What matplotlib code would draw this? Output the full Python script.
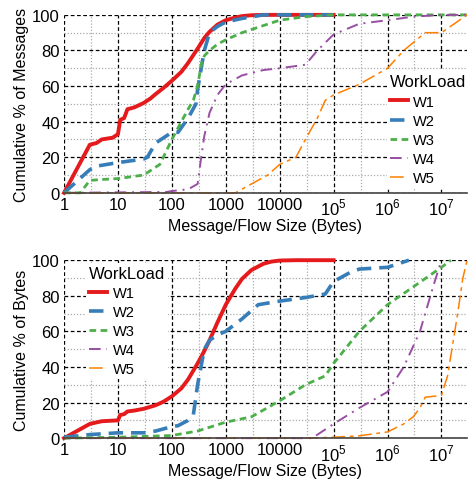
import matplotlib
matplotlib.use("Agg")
import matplotlib.pyplot as plt
from matplotlib.ticker import FixedLocator, FixedFormatter, NullFormatter

plt.rcParams['font.family'] = ['Liberation Sans', 'DejaVu Sans']
plt.rcParams['mathtext.fontset'] = 'custom'
plt.rcParams['mathtext.rm'] = 'Liberation Sans'

names = ["W1", "W2", "W3", "W4", "W5"]
colors = ["#e41a1c", "#377eb8", "#4daf4a", "#984ea3", "#ff7f00"]

# Top: cumulative % of messages
msg_x = {
    "W1": [1, 3, 4, 5, 8, 10, 11, 13, 15, 20, 30, 40, 50, 70, 100, 150, 200, 300, 400, 500, 700,
           1000, 1500, 2000, 3000, 5000, 1e5],
    "W2": [1, 3, 4, 10, 30, 35, 50, 100, 130, 200, 280, 300, 350, 400, 500, 700, 1000, 2000, 5000, 1e5],
    "W3": [1, 2, 3, 5, 10, 30, 60, 100, 150, 200, 250, 300, 350, 400, 500, 700, 1000, 2000, 5000,
           1e4, 3e4, 1e5, 3e7],
    "W4": [1, 80, 100, 200, 300, 350, 400, 500, 700, 1000, 2000, 5000, 1e4, 3e4, 5e4, 1e5, 3e5,
           1e6, 3e6, 1e7, 3e7],
    "W5": [1, 1500, 3000, 6000, 1e4, 2e4, 3e4, 5e4, 7e4, 1e5, 3e5, 1e6, 2e6, 5e6, 1e7, 3e7],
}
msg_y = {
    "W1": [0, 27, 28, 30, 31, 33, 41, 42, 47, 48, 50.5, 53, 55.5, 59, 63, 68, 73, 81, 87, 90.5, 94.5,
           97, 98.5, 99.3, 99.8, 100, 100],
    "W2": [0, 13, 15, 17, 19, 20, 28, 34, 34, 42, 50, 58, 70, 80, 90, 93.5, 96, 98, 100, 100],
    "W3": [0, 0, 7, 7.5, 8, 10, 16, 30, 40, 47, 52, 60, 72, 77, 80, 83.5, 86, 90, 94, 97, 99, 100, 100],
    "W4": [0, 0.5, 1, 2, 5, 20, 32, 45, 55, 61, 66, 69, 70, 72, 80, 89, 95, 97, 99, 100, 100],
    "W5": [0, 0, 5, 10, 16, 20, 30, 42, 52, 55, 61, 70, 80, 90, 90, 100],
}

# Bottom: cumulative % of bytes
byte_x = {
    "W1": [1, 3, 5, 10, 11, 13, 15, 20, 30, 50, 70, 100, 150, 200, 300, 400, 500, 700, 1000, 1500,
           2000, 3000, 5000, 7000, 1e4, 2e4, 1e5],
    "W2": [1, 3, 10, 30, 50, 100, 130, 200, 250, 300, 400, 500, 700, 1000, 2000, 4000, 1e4, 3e4,
           7e4, 1e5, 2e5, 3e5, 1e6, 2.5e6],
    "W3": [1, 10, 100, 300, 1000, 3000, 1e4, 3e4, 7e4, 1e5, 3e5, 1e6, 3e6, 1e7, 1.5e7],
    "W4": [1, 4e4, 1e5, 3e5, 1e6, 2e6, 4e6, 5e6, 7e6, 1e7],
    "W5": [1, 3e4, 1e5, 3e5, 1e6, 2e6, 3e6, 4e6, 5e6, 1e7, 1.3e7, 2e7, 2.5e7, 3e7],
}
byte_y = {
    "W1": [0, 8, 9.5, 10, 13, 13.5, 15, 15.5, 16.5, 18.5, 20.5, 23.5, 28, 33, 42, 49, 55, 65, 75, 84,
           89.5, 94.5, 98, 99.2, 99.8, 100, 100],
    "W2": [0.5, 2, 3, 3, 4, 6.5, 7, 10, 13, 30, 50, 55, 58, 60, 67, 75, 77, 79, 81, 88, 93, 95, 96, 100],
    "W3": [0, 0.5, 1.5, 4, 9, 12, 21, 30, 35, 42, 60, 75, 85, 96, 100],
    "W4": [0, 0, 8, 17, 26, 40, 60, 70, 85, 100],
    "W5": [0, 0, 0.5, 1.3, 3.5, 8, 12, 17, 23, 24, 35, 70, 90, 100],
}

styles = {
    "W1": dict(lw=2.8, ls="-"),
    "W2": dict(lw=2.6, ls=(0, (4, 2.2))),
    "W3": dict(lw=2.0, ls=(0, (2.4, 1.6))),
    "W4": dict(lw=1.4, ls=(0, (6, 3, 1, 3))),
    "W5": dict(lw=1.1, ls=(0, (9, 3, 2.5, 3))),
}

xtick_vals = [1, 10, 100, 1000, 1e4, 1e5, 1e6, 1e7]
xtick_labels = ["1", "10", "100", "1000", "10000", r"$10^5$", r"$10^6$", r"$10^7$"]
minor_x = [10 ** (k + 0.5) for k in range(0, 8)]

fig = plt.figure(figsize=(4.71, 4.81), dpi=100)
ax1 = fig.add_axes([0.136, 0.597, 0.855, 0.370])
ax2 = fig.add_axes([0.136, 0.087, 0.855, 0.370])


def style_axes(ax, ylabel):
    ax.set_xscale("log")
    ax.set_xlim(1, 10 ** 7.47)
    ax.set_ylim(0, 100)
    ax.xaxis.set_major_locator(FixedLocator(xtick_vals))
    ax.xaxis.set_major_formatter(FixedFormatter(xtick_labels))
    ax.xaxis.set_minor_locator(FixedLocator(minor_x))
    ax.xaxis.set_minor_formatter(NullFormatter())
    ax.yaxis.set_major_locator(FixedLocator([0, 20, 40, 60, 80, 100]))
    ax.yaxis.set_minor_locator(FixedLocator([10, 30, 50, 70, 90]))
    ax.grid(True, which="major", color="black", ls=(0, (3, 2)), lw=0.9)
    ax.grid(True, which="minor", color="#aaaaaa", ls=(0, (1, 1.5)), lw=0.9)
    ax.tick_params(which="both", length=0, labelsize=12, pad=3)
    for s in ["top", "right", "left"]:
        ax.spines[s].set_visible(False)
    ax.spines["bottom"].set_color("#444444")
    ax.spines["bottom"].set_linewidth(1.2)
    ax.set_xlabel("Message/Flow Size (Bytes)", fontsize=11.5, labelpad=0)
    ax.set_ylabel(ylabel, fontsize=11.5, labelpad=2)
    ax.set_axisbelow(True)


for ax, xs, ys, yl in [(ax1, msg_x, msg_y, "Cumulative % of Messages"),
                        (ax2, byte_x, byte_y, "Cumulative % of Bytes")]:
    style_axes(ax, yl)
    for n, c in zip(names, colors):
        ax.plot(xs[n], ys[n], color=c, label=n, clip_on=False, **styles[n])

leg_kw = dict(title="WorkLoad", fontsize=10.5, title_fontsize=12, frameon=True,
              framealpha=1, edgecolor="none", fancybox=False, handlelength=1.25,
              handletextpad=0.35, labelspacing=0.35, borderaxespad=0.0, borderpad=0.2)
l1 = ax1.legend(loc="center right", bbox_to_anchor=(1.005, 0.355), **leg_kw)
l1._legend_box.align = "left"
l2 = ax2.legend(loc="upper left", bbox_to_anchor=(0.055, 0.985), **leg_kw)
l2._legend_box.align = "left"

fig.savefig("out.png", dpi=100)
